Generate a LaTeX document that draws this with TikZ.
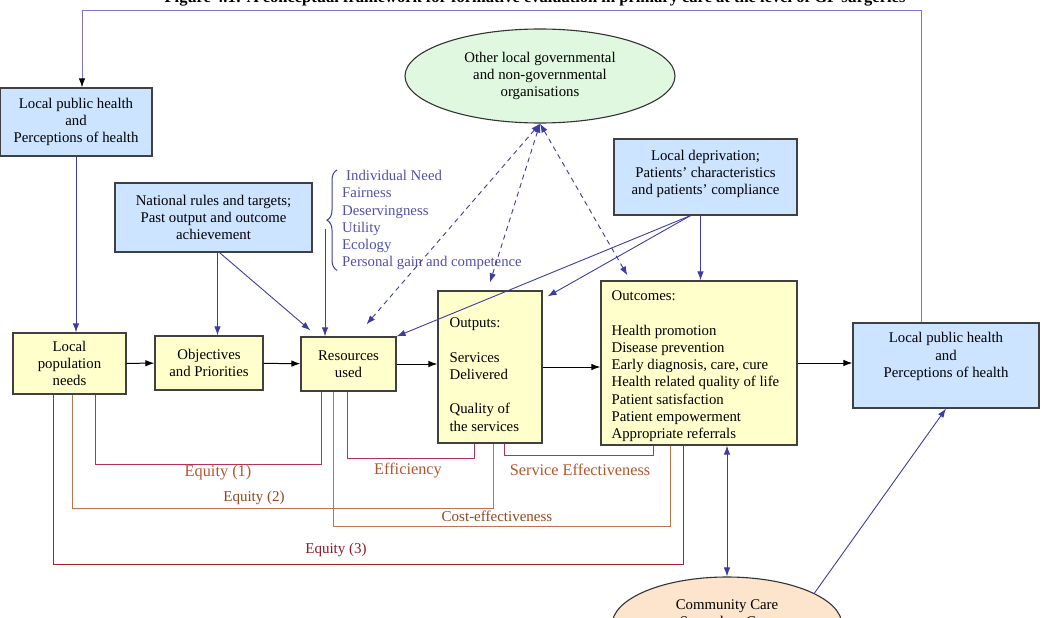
\documentclass[tikz,border=0pt]{standalone}
\usepackage{fontspec}
\setmainfont{Liberation Serif}
\usetikzlibrary{arrows.meta, decorations.pathreplacing, positioning, shapes.geometric}

\definecolor{boxyellow}{RGB}{255,255,204}
\definecolor{boxblue}{RGB}{204,228,255}
\definecolor{orggreen}{RGB}{224,248,224}
\definecolor{carepeach}{RGB}{253,228,204}
\definecolor{linkblue}{RGB}{60,60,165}
\definecolor{feedpurple}{RGB}{125,115,205}
\definecolor{listblue}{RGB}{80,80,170}
\definecolor{linecrimson}{RGB}{185,50,85}
\definecolor{linetan}{RGB}{190,115,75}
\definecolor{linered}{RGB}{165,35,45}
\definecolor{labelbrown}{RGB}{180,85,45}
\definecolor{labeldark}{RGB}{150,70,30}
\definecolor{labelred}{RGB}{140,25,40}

\newcommand{\boxfont}{\fontsize{14.8}{17.3}\selectfont}

\begin{document}
\begin{tikzpicture}[
    x=1pt, y=-1pt, % pixel-like coordinates, y grows downwards
    >={Latex[length=9pt, width=6.5pt]}, % Default arrow tip
    yellowbox/.style={draw=black!75, line width=1.2pt, fill=boxyellow, inner sep=0pt, align=center, font=\boxfont}, % Process boxes
    bluebox/.style={yellowbox, fill=boxblue}, % Context boxes
    boxtext/.style={inner sep=0pt, font=\boxfont}, % Text laid over a box
    linkarrow/.style={->, linkblue, line width=0.9pt}, % Blue influences
    dashlink/.style={<->, linkblue, line width=0.9pt, dash pattern=on 5pt off 4pt}, % Links with other bodies
    flowarrow/.style={->, black, line width=1pt}, % Main chain
    feedline/.style={-{Latex[length=9pt, width=6.5pt, color=black]}, draw=feedpurple, line width=1pt}, % Feedback loop
    measure/.style={draw=#1, line width=1pt}, % Evaluation brackets
    measurelabel/.style={inner sep=0pt, text=#1, font=\fontsize{16.3}{18}\selectfont}, % Big bracket labels
    smalllabel/.style={inner sep=0pt, text=#1, font=\fontsize{15}{17}\selectfont} % Small bracket labels
]

    \useasboundingbox (0,0) rectangle (1045,618);

    % Title (cut by the top of the page)
    \node (title) [anchor=base, font=\bfseries\fontsize{16.5}{19}\selectfont] at (535,3) {Figure 4.1: A conceptual framework for formative evaluation in primary care at the level of GP surgeries};

    % Context boxes
    \node (lphL) [bluebox, minimum width=152pt, minimum height=68pt] at (76,122) {Local public health\\and\\Perceptions of health};
    \node (nat) [bluebox, minimum width=197pt, minimum height=69pt] at (213.5,217.5) {National rules and targets;\\Past output and outcome\\achievement};
    \node (dep) [bluebox, minimum width=183pt, minimum height=76pt] at (705.5,177) {};
    \node (depText) [boxtext, align=center] at ([yshift=3pt]dep.center) {Local deprivation;\\Patients’ characteristics\\and patients’ compliance};
    \node (lphR) [bluebox, minimum width=186pt, minimum height=85pt] at (946,365.5) {};
    \node (lphRText) [boxtext, align=center] at ([yshift=9pt]lphR.center) {Local public health\\and\\Perceptions of health};

    % Other bodies
    \node (orgs) [ellipse, draw=black!80, line width=1.1pt, fill=orggreen, minimum width=270pt, minimum height=94pt, inner sep=0pt, align=center, font=\boxfont] at (540,76) {Other local governmental\\and non-governmental\\organisations};
    \node (comm) [ellipse, draw=black!80, line width=1.1pt, fill=carepeach, minimum width=230pt, minimum height=96pt] at (727,625) {};
    \node (commText) [boxtext, align=center] at ([yshift=10pt]comm.center) {Community Care\\Secondary Care};

    % Main chain
    \node (pop) [yellowbox, minimum width=113pt, minimum height=61pt] at (69.5,363.5) {Local\\population\\needs};
    \node (obj) [yellowbox, minimum width=108pt, minimum height=54pt] at (209,363) {Objectives\\and Priorities};
    \node (res) [yellowbox, minimum width=95pt, minimum height=54pt] at (348.5,364) {Resources\\used};
    \node (outp) [yellowbox, minimum width=104pt, minimum height=152pt] at (490,367) {};
    \node (outpText) [boxtext, align=left, below right=27pt and 12pt of outp.north west] {Outputs:\\[17.3pt]Services\\Delivered\\[17.3pt]Quality of\\the services};
    \node (outc) [yellowbox, minimum width=196pt, minimum height=164pt] at (699,363) {};
    \node (outcText) [boxtext, align=left, below right=10pt and 11pt of outc.north west] {Outcomes:\\[17.3pt]Health promotion\\Disease prevention\\Early diagnosis, care, cure\\Health related quality of life\\Patient satisfaction\\Patient empowerment\\Appropriate referrals};

    % Values behind resource allocation
    \node (values) [boxtext, text=listblue, align=left, anchor=north west] at (342,170) {\hspace{4pt}Individual Need\\Fairness\\Deservingness\\Utility\\Ecology\\Personal gain and competence};
    \draw[linkblue, line width=1pt, decorate, decoration={brace, amplitude=10pt}] ([xshift=-5pt]values.south west) -- ([xshift=-5pt]values.north west);
    \coordinate (braceFoot) at (325,229);
    \draw[linkarrow] (braceFoot) -- (braceFoot |- res.north);

    % Main flow
    \draw[flowarrow] (pop) -- (obj);
    \draw[flowarrow] (obj) -- (res);
    \draw[flowarrow] (res.east) -- (res.east -| outp.west);
    \draw[flowarrow] (outp.east) -- (outp.east -| outc.west);
    \draw[flowarrow] (outc.east) -- (outc.east -| lphR.west);

    % Feedback loop
    \coordinate (fbTop) at (82,11);
    \draw[feedline] ([xshift=-25pt]lphR.north) |- (fbTop) -- (fbTop |- lphL.north);

    % Influences
    \draw[linkarrow] (lphL.south) -- (lphL.south |- pop.north);
    \draw[linkarrow] ([xshift=4pt]nat.south) -- ([xshift=4pt]nat.south |- obj.north);
    \draw[linkarrow] ([xshift=6pt]nat.south) -- ([xshift=10pt,yshift=6pt]res.north west);
    \draw[linkarrow] ([xshift=-15pt]dep.south) -- (res.north east);
    \draw[linkarrow] ([xshift=-15pt]dep.south) -- ([xshift=5pt,yshift=-6pt]outp.north east);
    \draw[linkarrow] ([xshift=-5pt]dep.south) -- ([xshift=-5pt]dep.south |- outc.north);
    \draw[dashlink] (orgs.south) -- ([xshift=18pt,yshift=12pt]res.north);
    \draw[dashlink] (orgs.south) -- ([yshift=8pt]outp.north);
    \draw[dashlink] (orgs.south) -- ([xshift=27pt,yshift=5pt]outc.north west);
    \draw[linkarrow, <->] (comm.north |- outc.south) -- (comm.north);
    \draw[linkarrow] (comm.20) -- (lphR.south);

    % Evaluation brackets
    \draw[measure=linecrimson] ([xshift=83pt]pop.south west) -- ++(0,70) -| ([xshift=21pt]res.south west);
    \draw[measure=linetan] ([xshift=60pt]pop.south west) -- ++(0,114) -| ([xshift=56pt]outp.south west);
    \draw[measure=linered] ([xshift=41pt]pop.south west) -- ++(0,170) -| ([xshift=83pt]outc.south west);
    \draw[measure=linecrimson] ([xshift=47pt]res.south west) -- ++(0,67) -| ([xshift=37pt]outp.south west);
    \draw[measure=linetan] ([xshift=33pt]res.south west) -- ++(0,135) -| ([xshift=70pt]outc.south west);
    \draw[measure=linecrimson] ([xshift=67pt]outp.south west) -- ++(0,12) -| ([xshift=53pt]outc.south west);

    \node (eqOneLabel) [measurelabel=labelbrown] at (218,473) {Equity (1)};
    \node (effLabel) [measurelabel=labelbrown] at (408,471) {Efficiency};
    \node (serviceLabel) [measurelabel=labelbrown] at (580,470) {Service Effectiveness};
    \node (eqTwoLabel) [smalllabel=labeldark] at (254,498) {Equity (2)};
    \node (costLabel) [smalllabel=labeldark] at (497,516) {Cost-effectiveness};
    \node (eqThreeLabel) [smalllabel=labelred] at (336,550) {Equity (3)};

\end{tikzpicture}
\end{document}
